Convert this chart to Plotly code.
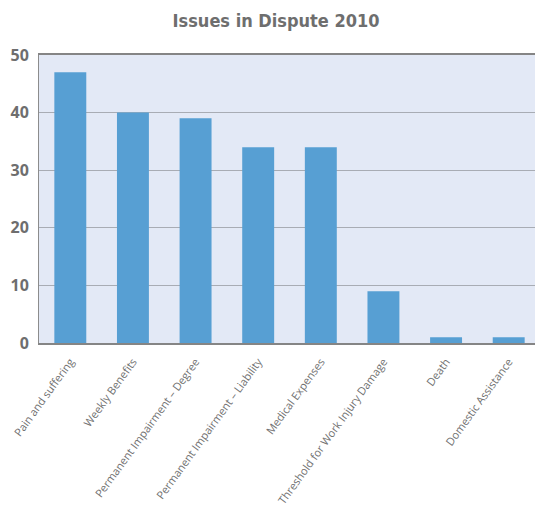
import plotly.graph_objects as go

categories = ["Pain and suffering", "Weekly Benefits", "Permanent Impairment – Degree",
              "Permanent Impairment – Liability", "Medical Expenses",
              "Threshold for Work Injury Damage", "Death", "Domestic Assistance"]
values = [47, 40, 39, 34, 34, 9, 1, 1]
y_ticks = [0, 10, 20, 30, 40, 50]

fig = go.Figure(go.Bar(x=categories, y=values, marker_color="#579fd3",
                       marker_line_width=0))

fig.update_layout(
    width=535, height=509,
    margin=dict(l=39, r=0, t=55, b=166, autoexpand=False),
    paper_bgcolor="white", plot_bgcolor="#e3e9f6",
    bargap=0.49, showlegend=False,
    title=dict(text="<b>Issues in Dispute 2010</b>", x=0.516, xanchor="center",
               y=0.96, yanchor="middle",
               font=dict(family="DejaVu Sans Condensed", size=18, color="#6e6e6e")),
)
fig.update_xaxes(type="category", range=[-0.5, 7.42], showline=True, mirror=True,
                 linecolor="#858585", linewidth=2, tickangle=-54, ticks="", showgrid=False,
                 ticklabelstandoff=6, automargin=False,
                 tickfont=dict(family="Open Sans", size=11, color="#707070"))
fig.update_yaxes(range=[0, 50], tickvals=y_ticks, showline=True, linecolor="#8c8c8c",
                 linewidth=1, showgrid=True, gridcolor="#a8acb4", gridwidth=1,
                 zeroline=False, ticks="", ticklabelstandoff=6, automargin=False,
                 tickfont=dict(family="Noto Sans", size=16, color="#6e6e6e", weight="bold"))
fig.write_html("out.html")
